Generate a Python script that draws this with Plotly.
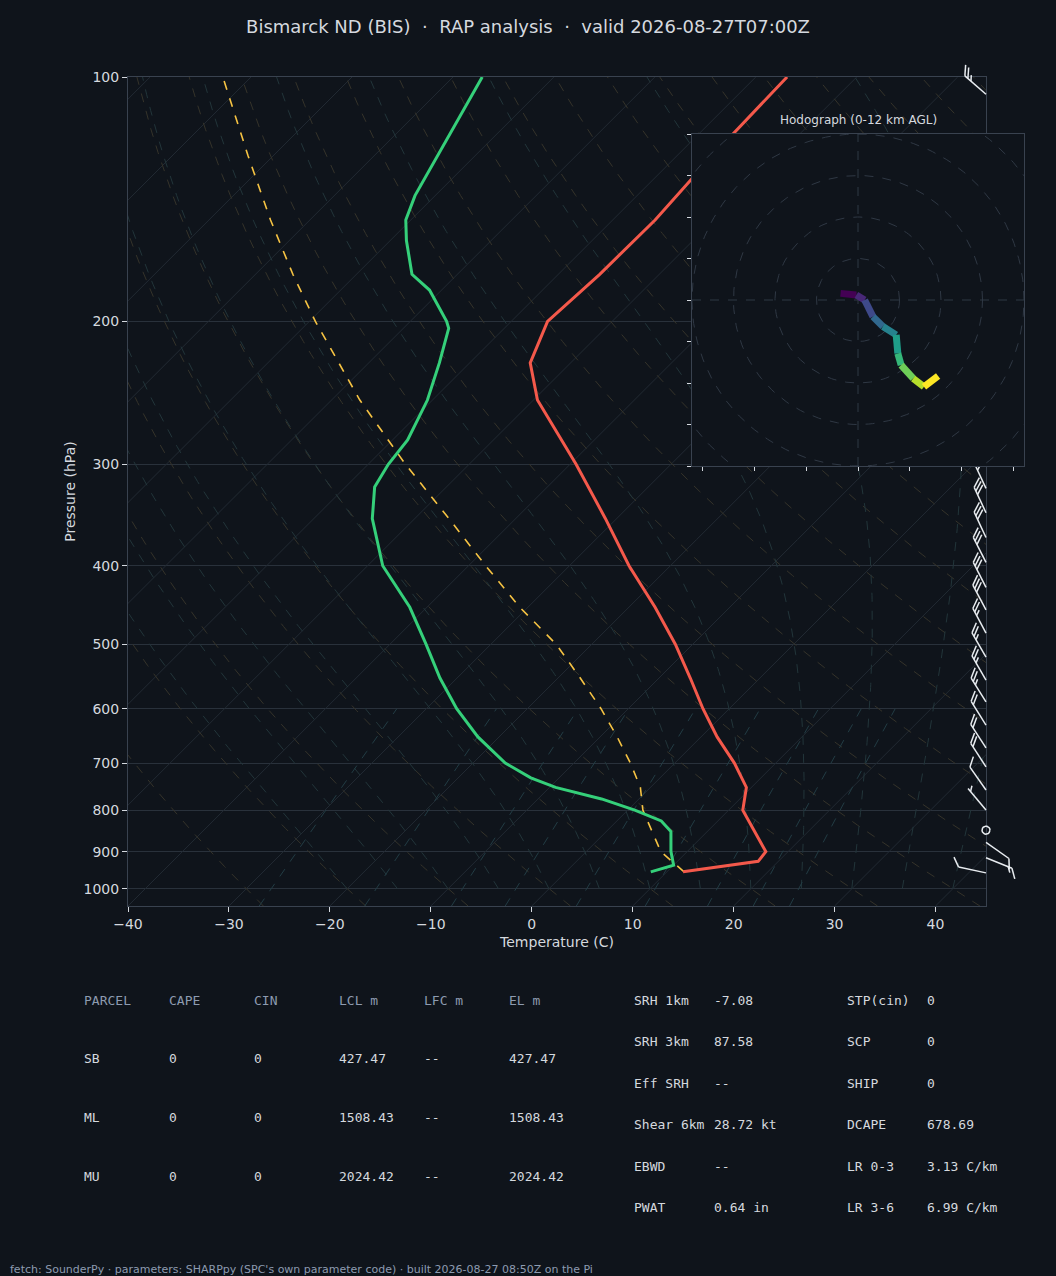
import numpy as np
import plotly.graph_objects as go
from plotly.colors import sample_colorscale

# Sounding (pressure hPa, temperature C)
t_pres = [953, 925, 900, 850, 800, 750, 700, 650, 600, 550, 500, 450, 400, 350, 300, 250, 225, 200, 175, 150, 125, 100]
t_temp = [11.6, 18.0, 17.8, 14.7, 11.4, 9.5, 5.9, 1.6, -2.6, -6.9, -11.7, -17.4, -24.1, -31.1, -39.4, -49.6, -54.0, -56.4, -55.9, -55.8, -56.5, -56.9]

td_pres = [953, 935, 900, 850, 825, 800, 775, 750, 730, 700, 650, 600, 550, 500, 450, 400, 350, 320, 300, 280, 250, 225, 204, 200, 183, 175, 159, 150, 140, 125, 100]
td_temp = [8.4, 10.0, 8.4, 6.4, 4.4, 0.7, -3.7, -9.4, -12.8, -16.8, -22.1, -27.0, -31.7, -36.4, -41.7, -48.5, -54.2, -57.1, -58.0, -58.5, -60.5, -63.0, -65.5, -66.4, -71.2, -74.5, -78.4, -80.5, -82.0, -83.7, -87.1]

parcel_pres = [953, 900, 800, 750, 700, 650, 600, 550, 500, 450, 400, 350, 300, 250, 200, 175, 150, 125, 100]
parcel_temp = [11.7, 7.4, 1.5, -1.0, -4.4, -8.3, -12.7, -17.8, -23.5, -30.8, -38.3, -46.6, -56.3, -67.2, -79.4, -86.3, -93.9, -102.5, -112.8]

# wind barbs: pressure, direction (deg), speed (kt)
wind_pres = [105, 321, 344, 369, 396, 425, 453, 484, 518, 553, 588, 628, 670, 707, 755, 799, 846, 876, 915, 955]
wind_dir = [311, 335, 335, 335, 333, 333, 332, 332, 330, 330, 328, 328, 327, 327, 325, 320, 0, 125, 112, 282]
wind_spd = [25, 30, 30, 30, 30, 30, 30, 25, 25, 25, 25, 20, 20, 20, 10, 5, 0, 10, 15, 10]

# hodograph u, v (kt)
hodo_u = [-4.2, -0.4, 1.6, 3.6, 6.0, 9.2, 9.6, 10.4, 13.3, 15.9, 19.3]
hodo_v = [1.6, 1.2, 0.0, -4.0, -6.4, -8.4, -12.9, -15.7, -18.9, -20.9, -18.3]

table_head = ["PARCEL", "CAPE", "CIN", "LCL m", "LFC m", "EL m"]
table_rows = [["SB", "0", "0", "427.47", "--", "427.47"],
              ["ML", "0", "0", "1508.43", "--", "1508.43"],
              ["MU", "0", "0", "2024.42", "--", "2024.42"]]
params_a = [("SRH 1km", "-7.08"), ("SRH 3km", "87.58"), ("Eff SRH", "--"),
            ("Shear 6km", "28.72 kt"), ("EBWD", "--"), ("PWAT", "0.64 in")]
params_b = [("STP(cin)", "0"), ("SCP", "0"), ("SHIP", "0"),
            ("DCAPE", "678.69"), ("LR 0-3", "3.13 C/km"), ("LR 3-6", "6.99 C/km")]

BG = "#0f141b"
FG = "#d5d9df"
MUTED = "#8d9bb0"
EDGE = "#39424f"
W, H = 1056, 1276
P_BOT = 1050.0
SKEW = 34.955  # deg C per ln(p) unit, 45 degree isotherms


def skx(t, p):
    return np.asarray(t) + SKEW * np.log(P_BOT / np.asarray(p, dtype=float))


fig = go.Figure()

# background: isotherms, dry/moist adiabats, mixing ratio lines
pp = np.linspace(P_BOT, 100, 120)
for t in range(-130, 60, 10):
    fig.add_trace(go.Scatter(x=skx(np.full_like(pp, t), pp), y=pp, mode="lines",
                             line=dict(color="#222a33", width=1), hoverinfo="skip"))
for th in range(-30, 200, 10):
    tk = (th + 273.15) * (pp / 1000.0) ** 0.2857 - 273.15
    fig.add_trace(go.Scatter(x=skx(tk, pp), y=pp, mode="lines",
                             line=dict(color="#35332a", width=1, dash="dash"), hoverinfo="skip"))


def moist(t0):
    ps = np.arange(1000.0, 99.0, -5.0)
    out = [t0 + 273.15]
    for i in range(1, len(ps)):
        T = out[-1]
        p = ps[i - 1]
        es = 6.112 * np.exp(17.67 * (T - 273.15) / (T - 273.15 + 243.5))
        rs = 0.622 * es / (p - es)
        g = (287.0 * T + 2.5e6 * rs) / (p * (1004.0 + 2.5e6 ** 2 * rs * 0.622 / (287.0 * T * T)))
        out.append(T + g * (ps[i] - p))
    return ps, np.array(out) - 273.15


for t0 in range(-20, 45, 5):
    ps, ts = moist(t0)
    fig.add_trace(go.Scatter(x=skx(ts, ps), y=ps, mode="lines",
                             line=dict(color="#22353a", width=1, dash="dash"), hoverinfo="skip"))

pm = np.linspace(P_BOT, 600, 30)
for w in [0.4, 1, 2, 3, 5, 8, 12, 16, 20]:
    e = w / 1000.0 * pm / (0.622 + w / 1000.0)
    a = np.log(e / 6.112)
    td = 243.5 * a / (17.67 - a)
    fig.add_trace(go.Scatter(x=skx(td, pm), y=pm, mode="lines",
                             line=dict(color="#223c44", width=1, dash="dash"), hoverinfo="skip"))

fig.add_trace(go.Scatter(x=skx(parcel_temp, parcel_pres), y=parcel_pres, mode="lines",
                         line=dict(color="#f6c343", width=1.6, dash="dash")))
fig.add_trace(go.Scatter(x=skx(t_temp, t_pres), y=t_pres, mode="lines",
                         line=dict(color="#f4594b", width=3)))
fig.add_trace(go.Scatter(x=skx(td_temp, td_pres), y=td_pres, mode="lines",
                         line=dict(color="#35d07a", width=3)))

# wind barbs in pixel space (xaxis2 / yaxis2)
bx, by = [], []
for p, d, s in zip(wind_pres, wind_dir, wind_spd):
    x0 = 986.0
    y0 = 77 + 352.7 * np.log(p / 100.0)
    if s == 0:
        a = np.linspace(0, 2 * np.pi, 20)
        bx += list(x0 + 4 * np.cos(a)) + [None]
        by += list(-(y0 + 4 * np.sin(a))) + [None]
        continue
    r = np.radians(d)
    sx, sy = np.sin(r), -np.cos(r)  # screen coords, y down
    L = 28.0
    tx, ty = x0 + L * sx, y0 + L * sy
    bx += [x0, tx, None]
    by += [-y0, -ty, None]
    px_, py_ = -sy, sx
    vx, vy = 0.8 * px_ + 0.6 * sx, 0.8 * py_ + 0.6 * sy
    full, half = divmod(int(round(s / 5.0)), 2)
    pos = 0.0
    if full == 0 and half:
        pos = 4.0
    for k in range(full):
        ax, ay = tx - pos * sx, ty - pos * sy
        bx += [ax, ax + 11 * vx, None]
        by += [-ay, -(ay + 11 * vy), None]
        pos += 4.0
    if half:
        ax, ay = tx - pos * sx, ty - pos * sy
        bx += [ax, ax + 6 * vx, None]
        by += [-ay, -(ay + 6 * vy), None]
fig.add_trace(go.Scatter(x=bx, y=by, xaxis="x2", yaxis="y2", mode="lines",
                         line=dict(color="#e8ecf0", width=1.5), hoverinfo="skip"))

# hodograph (xaxis3 / yaxis3)
fig.add_trace(go.Scatter(x=[-40, 40, 40, -40, -40], y=[-40, -40, 40, 40, -40], xaxis="x3", yaxis="y3",
                         mode="lines", fill="toself", fillcolor=BG, line=dict(width=0), hoverinfo="skip"))
ang = np.linspace(0, 2 * np.pi, 200)
for rr in range(10, 70, 10):
    fig.add_trace(go.Scatter(x=rr * np.cos(ang), y=rr * np.sin(ang), xaxis="x3", yaxis="y3", mode="lines",
                             line=dict(color="#2f3844", width=1, dash="dash"), hoverinfo="skip"))
fig.add_trace(go.Scatter(x=[-40, 40, None, 0, 0], y=[0, 0, None, -40, 40], xaxis="x3", yaxis="y3",
                         mode="lines", line=dict(color="#2f3844", width=1, dash="dash"), hoverinfo="skip"))
cols = sample_colorscale("Viridis", [i / (len(hodo_u) - 2) for i in range(len(hodo_u) - 1)])
for i in range(len(hodo_u) - 1):
    fig.add_trace(go.Scatter(x=hodo_u[i:i + 2], y=hodo_v[i:i + 2], xaxis="x3", yaxis="y3", mode="lines",
                             line=dict(color=cols[i], width=7), hoverinfo="skip"))

ptick = [100, 200, 300, 400, 500, 600, 700, 800, 900, 1000]
tickfont = dict(color=FG, size=14, family="DejaVu Sans")
fig.update_layout(
    width=W, height=H, paper_bgcolor=BG, plot_bgcolor="rgba(0,0,0,0)", showlegend=False,
    margin=dict(l=0, r=0, t=0, b=0, pad=0, autoexpand=False),
    font=dict(family="DejaVu Sans", color=FG),
    title=dict(text="Bismarck ND (BIS)  ·  RAP analysis  ·  valid 2026-08-27T07:00Z",
               x=0.5, xanchor="center", y=1 - 27 / H, yanchor="middle", font=dict(size=18, color=FG)),
    xaxis=dict(domain=[128 / W, 986 / W], range=[-40, 45], tickvals=list(range(-40, 50, 10)),
               ticktext=["\u221240", "\u221230", "\u221220", "\u221210", "0", "10", "20", "30", "40"],
               tickfont=tickfont, ticks="outside", ticklen=5, tickcolor=FG, showgrid=False, zeroline=False,
               showline=True, linecolor=EDGE, mirror=True, automargin=False,
               title=dict(text="Temperature (C)", font=dict(size=14, color=FG), standoff=6)),
    yaxis=dict(domain=[1 - 906 / H, 1 - 77 / H], type="log", range=[np.log10(P_BOT), 2],
               tickvals=ptick, ticktext=[str(v) for v in ptick], tickfont=tickfont,
               ticks="outside", ticklen=5, tickcolor=FG, showgrid=True, gridcolor="#29313b",
               zeroline=False, showline=True, linecolor=EDGE, mirror=True, automargin=False,
               title=dict(text="Pressure (hPa)", font=dict(size=14, color=FG), standoff=4)),
    xaxis2=dict(domain=[128 / W, 1040 / W], range=[128, 1040], visible=False, anchor="y2", automargin=False),
    yaxis2=dict(domain=[1 - 920 / H, 1 - 60 / H], range=[-920, -60], visible=False, anchor="x2", automargin=False),
    xaxis3=dict(domain=[692 / W, 1024 / W], range=[-40, 40], anchor="y3", showgrid=False, zeroline=False,
                showticklabels=False, ticks="outside", ticklen=4, tickcolor=FG, automargin=False,
                tickvals=[-37.5, -25, -12.5, 0, 12.5, 25, 37.5],
                showline=True, linecolor=EDGE, mirror=True),
    yaxis3=dict(domain=[1 - 466 / H, 1 - 134 / H], range=[-40, 40], anchor="x3", showgrid=False,
                zeroline=False, showticklabels=False, ticks="outside", ticklen=4, tickcolor=FG,
                tickvals=list(range(-40, 41, 10)), automargin=False,
                showline=True, linecolor=EDGE, mirror=True),
)

ann = [dict(text="Hodograph (0-12 km AGL)", x=858 / W, y=1 - 120 / H, xanchor="center",
            font=dict(size=12, color=FG))]
mono = "DejaVu Sans Mono"
colx = [82, 167, 252, 337, 422, 507]
for j, h in enumerate(table_head):
    ann.append(dict(text=h, x=colx[j] / W, y=1 - 1000 / H, xanchor="left", font=dict(size=13, color=MUTED, family=mono)))
for i, row in enumerate(table_rows):
    for j, v in enumerate(row):
        ann.append(dict(text=v, x=colx[j] / W, y=1 - (1058 + 59 * i) / H, xanchor="left",
                        font=dict(size=13, color=FG, family=mono)))
for i, ((ka, va), (kb, vb)) in enumerate(zip(params_a, params_b)):
    yy = 1 - (1000 + 41.5 * i) / H
    for xx, t in [(632, ka), (712, va), (845, kb), (925, vb)]:
        ann.append(dict(text=t, x=xx / W, y=yy, xanchor="left", font=dict(size=13, color=FG, family=mono)))
ann.append(dict(text="fetch: SounderPy · parameters: SHARPpy (SPC's own parameter code) · built 2026-08-27 08:50Z on the Pi",
                x=8 / W, y=1 - 1269 / H, xanchor="left", font=dict(size=11, color=MUTED)))
for a in ann:
    a.update(xref="paper", yref="paper", showarrow=False, yanchor=a.get("yanchor", "middle"))
fig.update_layout(annotations=ann)

fig.write_html("out.html", config={"displayModeBar": False},
               post_script="document.body.style.margin='0';")
